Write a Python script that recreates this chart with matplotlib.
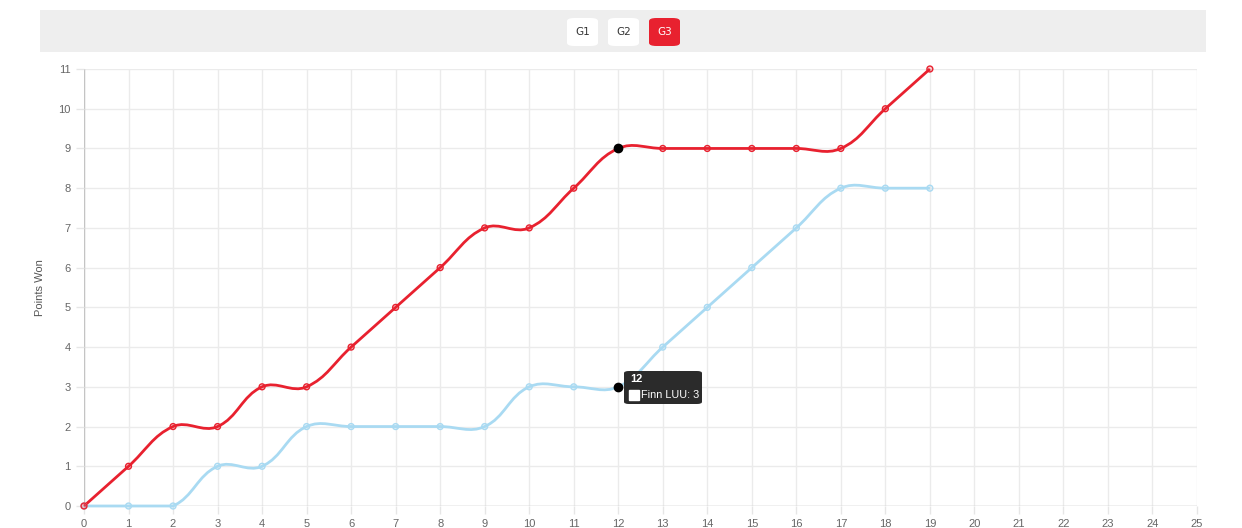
import numpy as np
import matplotlib
matplotlib.use("Agg")
import matplotlib.pyplot as plt
from matplotlib.path import Path
from matplotlib.patches import PathPatch, Rectangle, FancyBboxPatch

plt.rcParams['font.family'] = ['Liberation Sans', 'DejaVu Sans']

games = list(range(20))
red_pts = [0, 1, 2, 2, 3, 3, 4, 5, 6, 7, 7, 8, 9, 9, 9, 9, 9, 9, 10, 11]
blue_pts = [0, 0, 0, 1, 1, 2, 2, 2, 2, 2, 3, 3, 3, 4, 5, 6, 7, 8, 8, 8]
x_ticks = list(range(26))
y_ticks = list(range(12))
buttons = ["G1", "G2", "G3"]
hover_x = 12

RED = "#e8212f"
BLUE = "#a9daf2"

W, H = 1242, 528
fig = plt.figure(figsize=(W / 100, H / 100), dpi=100)
L, R, T, B = 84, 1197, 69, 506
ax = fig.add_axes([L / W, 1 - B / H, (R - L) / W, (B - T) / H])
ax.set_xlim(0, 25)
ax.set_ylim(0, 11)
sx = (R - L) / 25.0
sy = (B - T) / 11.0


def spline_path(xs, ys, t=0.4):
    # chart.js style cardinal spline, distances in pixels, control points kept in the chart area
    px = np.array(xs, float) * sx
    py = np.array(ys, float) * sy
    n = len(px)
    cps = []
    for i in range(n):
        p0 = (px[max(i - 1, 0)], py[max(i - 1, 0)])
        p1 = (px[i], py[i])
        p2 = (px[min(i + 1, n - 1)], py[min(i + 1, n - 1)])
        d01 = np.hypot(p1[0] - p0[0], p1[1] - p0[1])
        d12 = np.hypot(p2[0] - p1[0], p2[1] - p1[1])
        s01 = d01 / (d01 + d12) if d01 + d12 else 0
        s12 = d12 / (d01 + d12) if d01 + d12 else 0
        fa, fb = t * s01, t * s12
        c_prev = (p1[0] - fa * (p2[0] - p0[0]), p1[1] - fa * (p2[1] - p0[1]))
        c_next = (p1[0] + fb * (p2[0] - p0[0]), p1[1] + fb * (p2[1] - p0[1]))
        cps.append((c_prev, c_next))

    def cap(c):
        return (min(max(c[0] / sx, 0), 25), min(max(c[1] / sy, 0), 11))

    verts = [(xs[0], ys[0])]
    codes = [Path.MOVETO]
    for i in range(1, n):
        verts += [cap(cps[i - 1][1]), cap(cps[i][0]), (xs[i], ys[i])]
        codes += [Path.CURVE4] * 3
    return Path(verts, codes)


for x in x_ticks:
    ax.axvline(x, color="#ebebeb", lw=1, zorder=0)
for y in y_ticks:
    ax.axhline(y, color="#ebebeb", lw=1, zorder=0)
ax.axhline(0, color="#c4c4c4", lw=1, zorder=0.5)
ax.axvline(0, color="#c4c4c4", lw=1, zorder=0.5)

for ys, col in [(blue_pts, BLUE), (red_pts, RED)]:
    ax.add_patch(PathPatch(spline_path(games, ys), fill=False, edgecolor=col, lw=2,
                           zorder=2, clip_on=False))
    ax.scatter(games, ys, s=18, facecolor=col, edgecolor="none", alpha=0.2,
               zorder=3, clip_on=False)
    ax.scatter(games, ys, s=18, facecolor="none", edgecolor=col, lw=1, zorder=3,
               clip_on=False)

ax.scatter([hover_x, hover_x], [red_pts[hover_x], blue_pts[hover_x]], s=36, color="black",
           zorder=4, clip_on=False)

for s in ax.spines.values():
    s.set_visible(False)
ax.set_xticks(x_ticks)
ax.set_yticks(y_ticks)
ax.tick_params(colors="#666666", labelsize=8, length=6, width=1)
ax.tick_params(axis="both", color="#e6e6e6")
ax.set_ylabel("Points Won", fontsize=8, color="#555555", labelpad=10)

# header bar with game buttons
fig.patches.append(Rectangle((40 / W, 1 - 52 / H), (1206 - 40) / W, 42 / H,
                             transform=fig.transFigure, facecolor="#eeeeee",
                             edgecolor="none", zorder=0))
bx = [567, 608, 649]
for i, lab in enumerate(buttons):
    active = i == 2
    fig.patches.append(FancyBboxPatch((bx[i] / W, 1 - 46 / H), 31 / W, 28 / H,
                                      boxstyle="round,pad=0,rounding_size=0.006",
                                      transform=fig.transFigure,
                                      facecolor=RED if active else "white",
                                      edgecolor="none", zorder=1))
    fig.text((bx[i] + 15.5) / W, 1 - 32 / H, lab, ha="center", va="center",
             fontsize=7.5, color="white" if active else "#333333",
             family=["DejaVu Sans"], zorder=2)

# tooltip
fig.patches.append(FancyBboxPatch((624 / W, 1 - 404 / H), 78 / W, 33 / H,
                                  boxstyle="round,pad=0,rounding_size=0.004",
                                  transform=fig.transFigure, facecolor="#2b2b2b",
                                  edgecolor="none", zorder=5))
fig.text(630 / W, 1 - 379 / H, str(hover_x), fontsize=8, fontweight="bold",
         color="white", va="center", zorder=6)
fig.patches.append(Rectangle((629 / W, 1 - 400 / H), 10 / W, 10 / H,
                             transform=fig.transFigure, facecolor="white",
                             edgecolor="white", zorder=6))
fig.text(641 / W, 1 - 395 / H, "Finn LUU: %d" % blue_pts[hover_x], fontsize=7.8,
         color="white", va="center", zorder=6)

fig.savefig("out.png", dpi=100, facecolor="white")
